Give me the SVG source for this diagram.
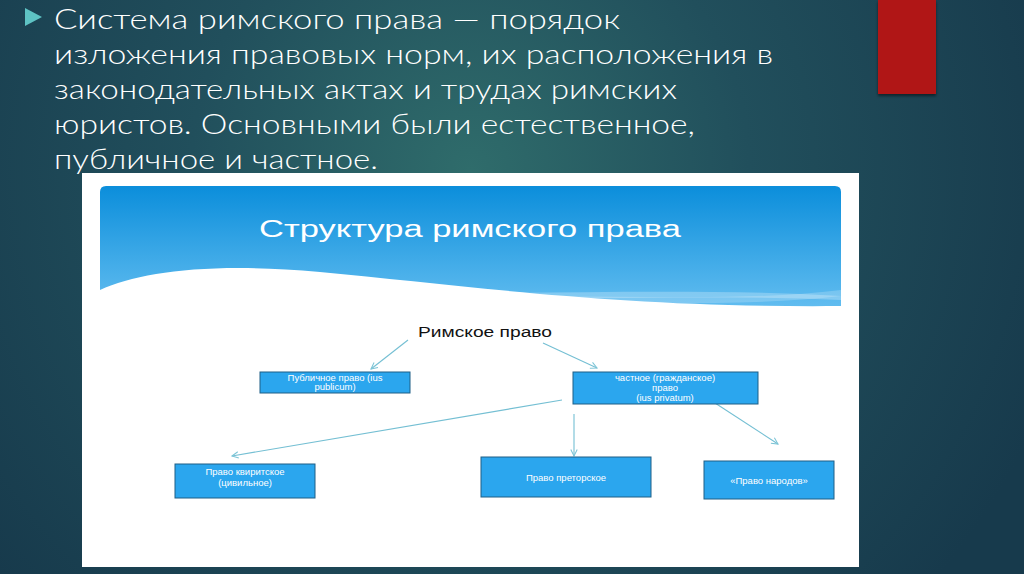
<svg xmlns="http://www.w3.org/2000/svg" width="1024" height="574" viewBox="0 0 1024 574">
<defs>
<radialGradient id="bg" cx="470" cy="170" r="620" gradientUnits="userSpaceOnUse">
<stop offset="0" stop-color="#2f6c6b"/>
<stop offset="0.45" stop-color="#214f5c"/>
<stop offset="1" stop-color="#173a4c"/>
</radialGradient>
<linearGradient id="hdr" x1="0" y1="0" x2="0" y2="1">
<stop offset="0" stop-color="#0b8edb"/>
<stop offset="1" stop-color="#62bdf0"/>
</linearGradient>
<marker id="ah" viewBox="0 0 10 10" refX="9" refY="5" markerWidth="8" markerHeight="8" orient="auto" markerUnits="userSpaceOnUse">
<path d="M1,1 L9,5 L1,9" fill="none" stroke="#7cc4d6" stroke-width="1.3"/>
</marker>
<filter id="sh" x="-20%" y="-20%" width="140%" height="140%">
<feDropShadow dx="0" dy="2" stdDeviation="1.5" flood-color="#000" flood-opacity="0.5"/>
</filter>
</defs>
<style>
.main{font-family:Lato,"Open Sans","DejaVu Sans",sans-serif;font-weight:300;font-size:28px;fill:#ffffff}
.box{fill:#2ba6ee;stroke:#1f5f86;stroke-width:1}
.bt{font-family:"Liberation Sans",Arial,sans-serif;font-size:9.5px;fill:#ffffff;text-anchor:middle}
.conn{stroke:#74bfd3;stroke-width:1.1;fill:none;marker-end:url(#ah)}
</style>
<rect width="1024" height="574" fill="url(#bg)"/>
<rect x="878" y="0" width="58" height="94" fill="#b01818" filter="url(#sh)"/>
<g id="bullet-text">
<polygon points="25,8 42,17 25,26" fill="#5ec3c4"/>
<text class="main" x="54" y="29" textLength="566" lengthAdjust="spacingAndGlyphs">Система римского права — порядок</text>
<text class="main" x="54" y="64" textLength="719" lengthAdjust="spacingAndGlyphs">изложения правовых норм, их расположения в</text>
<text class="main" x="54" y="99" textLength="623" lengthAdjust="spacingAndGlyphs">законодательных актах и трудах римских</text>
<text class="main" x="54" y="134" textLength="641" lengthAdjust="spacingAndGlyphs">юристов. Основными были естественное,</text>
<text class="main" x="54" y="169" textLength="324" lengthAdjust="spacingAndGlyphs">публичное и частное.</text>
</g>
<g id="panel">
<rect x="82" y="173" width="777" height="394" fill="#ffffff"/>
<path d="M106,186 H835 Q841,186 841,192 V308 L100,308 V192 Q100,186 106,186 Z" fill="url(#hdr)"/>
<path d="M300,288 C450,300 650,285 841,296 L841,300 C650,292 450,306 300,294 Z" fill="#ffffff" opacity="0.25"/>
<path d="M420,300 C560,290 720,305 841,290 L841,296 C720,310 560,298 420,306 Z" fill="#ffffff" opacity="0.2"/>
<path d="M100,290 C140,272 210,262 320,272 C470,286 620,308 841,306 L841,312 L100,312 Z" fill="#ffffff"/>
<text x="470" y="237" font-family="Liberation Sans, Arial, sans-serif" font-size="23" fill="#ffffff" text-anchor="middle" textLength="422" lengthAdjust="spacingAndGlyphs">Структура римского права</text>
</g>
<g id="connectors">
<line class="conn" x1="408" y1="340" x2="371" y2="369"/>
<line class="conn" x1="543" y1="343" x2="597" y2="368"/>
<line class="conn" x1="562" y1="400" x2="232" y2="456"/>
<line class="conn" x1="574" y1="414" x2="574" y2="456"/>
<line class="conn" x1="715" y1="403" x2="778" y2="444"/>
</g>
<g id="root">
<text x="485" y="337" font-family="Liberation Sans, Arial, sans-serif" font-size="14" fill="#111" text-anchor="middle" textLength="134" lengthAdjust="spacingAndGlyphs">Римское право</text>
</g>
<g id="public">
<rect class="box" x="260" y="372" width="150" height="21"/>
<text class="bt" x="335" y="381">Публичное право (ius</text>
<text class="bt" x="335" y="390">publicum)</text>
</g>
<g id="private">
<rect class="box" x="573" y="372" width="185" height="32"/>
<text class="bt" x="665" y="381">частное (гражданское)</text>
<text class="bt" x="665" y="391">право</text>
<text class="bt" x="665" y="401">(ius privatum)</text>
</g>
<g id="quiritary">
<rect class="box" x="175" y="464" width="140" height="34"/>
<text class="bt" x="245" y="475">Право квиритское</text>
<text class="bt" x="245" y="486">(цивильное)</text>
</g>
<g id="praetorian">
<rect class="box" x="481" y="457" width="170" height="40"/>
<text class="bt" x="566" y="481">Право преторское</text>
</g>
<g id="gentium">
<rect class="box" x="704" y="461" width="130" height="38"/>
<text class="bt" x="769" y="484">«Право народов»</text>
</g>
</svg>
